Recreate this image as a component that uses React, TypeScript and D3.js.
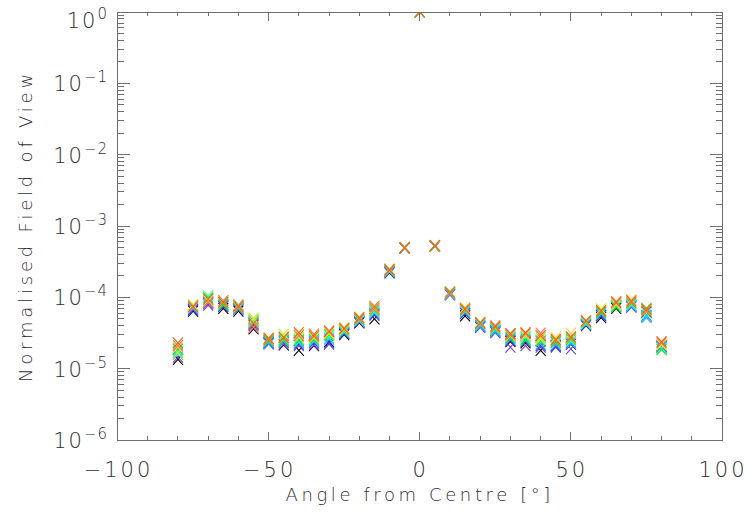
import React from "react";
import * as d3 from "d3";

// Off-axis angles (degrees) at which the field of view was sampled
const angles = [
  -80, -75, -70, -65, -60, -55, -50, -45, -40, -35, -30, -25, -20, -15, -10, -5, 0,
  5, 10, 15, 20, 25, 30, 35, 40, 45, 50, 55, 60, 65, 70, 75, 80,
];

// Normalised field of view per detector channel (same order as angles)
const chBlack = [1.35e-5, 6.4e-5, 8.6e-5, 7.0e-5, 6.4e-5, 3.6e-5, 2.3e-5, 2.15e-5, 1.8e-5, 2.1e-5, 2.4e-5, 3.0e-5, 4.4e-5, 5.0e-5, 2.2e-4, 4.9e-4, 1, 5.2e-4, 1.1e-4, 5.5e-5, 3.9e-5, 3.4e-5, 2.4e-5, 2.3e-5, 1.8e-5, 2.1e-5, 2.2e-5, 4.0e-5, 5.2e-5, 7.0e-5, 7.6e-5, 6.2e-5, 2.0e-5];
const chPurple = [1.45e-5, 6.8e-5, 7.8e-5, 7.4e-5, 6.7e-5, 4.0e-5, 2.35e-5, 2.2e-5, 2.1e-5, 2.15e-5, 2.2e-5, 3.1e-5, 4.5e-5, 5.6e-5, 2.25e-4, 4.92e-4, 1, 5.21e-4, 1.08e-4, 5.9e-5, 4.0e-5, 3.3e-5, 2.0e-5, 2.1e-5, 2.0e-5, 2.05e-5, 1.9e-5, 4.1e-5, 5.5e-5, 8.0e-5, 7.8e-5, 5.6e-5, 2.05e-5];
const chBlue = [1.7e-5, 6.6e-5, 8.2e-5, 7.6e-5, 7.0e-5, 4.2e-5, 2.25e-5, 2.35e-5, 2.2e-5, 2.3e-5, 2.3e-5, 3.15e-5, 4.55e-5, 5.8e-5, 2.3e-4, 4.94e-4, 1, 5.22e-4, 1.12e-4, 6.0e-5, 3.8e-5, 3.2e-5, 2.5e-5, 2.4e-5, 2.1e-5, 2.0e-5, 2.3e-5, 4.2e-5, 5.6e-5, 7.5e-5, 7.3e-5, 5.4e-5, 2.1e-5];
const chSky = [1.6e-5, 7.0e-5, 8.8e-5, 7.8e-5, 6.9e-5, 4.4e-5, 2.2e-5, 2.4e-5, 2.3e-5, 2.4e-5, 2.6e-5, 3.2e-5, 4.6e-5, 6.0e-5, 2.25e-4, 4.95e-4, 1, 5.23e-4, 1.1e-4, 6.2e-5, 3.9e-5, 3.3e-5, 2.6e-5, 2.6e-5, 2.2e-5, 2.15e-5, 2.25e-5, 4.15e-5, 5.8e-5, 7.8e-5, 7.5e-5, 5.2e-5, 2.0e-5];
const chCyan = [1.85e-5, 7.2e-5, 9.5e-5, 8.0e-5, 7.6e-5, 4.6e-5, 2.4e-5, 2.55e-5, 2.4e-5, 2.5e-5, 2.7e-5, 3.3e-5, 4.7e-5, 6.2e-5, 2.35e-4, 4.96e-4, 1, 5.25e-4, 1.14e-4, 6.3e-5, 4.1e-5, 3.5e-5, 3.1e-5, 2.8e-5, 2.5e-5, 2.3e-5, 2.4e-5, 4.3e-5, 6.0e-5, 7.6e-5, 7.7e-5, 5.5e-5, 1.95e-5];
const chAqua = [1.75e-5, 7.4e-5, 1.05e-4, 8.3e-5, 7.9e-5, 4.5e-5, 2.5e-5, 2.6e-5, 2.6e-5, 2.8e-5, 2.9e-5, 3.4e-5, 4.8e-5, 6.4e-5, 2.4e-4, 4.97e-4, 1, 5.26e-4, 1.16e-4, 6.5e-5, 4.2e-5, 3.6e-5, 2.8e-5, 2.7e-5, 2.7e-5, 2.4e-5, 2.5e-5, 4.4e-5, 6.2e-5, 7.4e-5, 8.0e-5, 6.0e-5, 1.9e-5];
const chGreen = [1.9e-5, 7.6e-5, 9.8e-5, 7.9e-5, 7.2e-5, 4.8e-5, 2.45e-5, 2.5e-5, 2.5e-5, 2.6e-5, 3.0e-5, 3.45e-5, 4.9e-5, 6.6e-5, 2.45e-4, 4.98e-4, 1, 5.27e-4, 1.2e-4, 6.6e-5, 4.3e-5, 3.7e-5, 2.7e-5, 2.5e-5, 2.4e-5, 2.35e-5, 2.6e-5, 4.5e-5, 6.1e-5, 7.3e-5, 8.3e-5, 7.0e-5, 1.85e-5];
const chLime = [1.65e-5, 7.9e-5, 9.2e-5, 8.6e-5, 7.5e-5, 5.1e-5, 2.6e-5, 3.05e-5, 2.75e-5, 2.7e-5, 3.1e-5, 3.5e-5, 5.3e-5, 7.2e-5, 2.4e-4, 4.99e-4, 1, 5.28e-4, 1.18e-4, 6.8e-5, 4.4e-5, 3.8e-5, 2.9e-5, 2.9e-5, 2.6e-5, 2.6e-5, 2.7e-5, 4.55e-5, 6.9e-5, 7.9e-5, 8.8e-5, 6.6e-5, 2.15e-5];
const chYellow = [2.0e-5, 7.7e-5, 9.0e-5, 8.8e-5, 7.3e-5, 4.9e-5, 2.7e-5, 2.8e-5, 3.0e-5, 2.9e-5, 3.2e-5, 3.8e-5, 5.1e-5, 6.9e-5, 2.5e-4, 5.0e-4, 1, 5.29e-4, 1.15e-4, 7.2e-5, 4.5e-5, 3.9e-5, 3.0e-5, 3.0e-5, 2.8e-5, 2.75e-5, 3.15e-5, 4.6e-5, 6.6e-5, 8.2e-5, 9.3e-5, 6.7e-5, 2.2e-5];
const chSalmon = [2.1e-5, 7.3e-5, 8.4e-5, 9.0e-5, 7.7e-5, 3.8e-5, 2.55e-5, 2.7e-5, 2.9e-5, 3.05e-5, 3.4e-5, 3.6e-5, 5.0e-5, 7.0e-5, 2.45e-4, 4.97e-4, 1, 5.3e-4, 1.17e-4, 6.7e-5, 4.35e-5, 4.0e-5, 2.95e-5, 3.1e-5, 3.15e-5, 2.5e-5, 2.8e-5, 4.7e-5, 6.4e-5, 8.7e-5, 8.6e-5, 6.4e-5, 2.3e-5];
const chOrange = [2.3e-5, 7.5e-5, 9.4e-5, 8.5e-5, 7.4e-5, 4.3e-5, 2.65e-5, 2.75e-5, 3.2e-5, 2.85e-5, 3.3e-5, 3.65e-5, 5.2e-5, 7.5e-5, 2.4e-4, 4.98e-4, 1, 5.3e-4, 1.15e-4, 6.9e-5, 4.4e-5, 3.85e-5, 3.1e-5, 3.2e-5, 2.9e-5, 2.55e-5, 2.75e-5, 4.65e-5, 6.5e-5, 8.4e-5, 8.9e-5, 6.8e-5, 2.4e-5];

const channels = [chBlack, chPurple, chBlue, chSky, chCyan, chAqua, chGreen, chLime, chYellow, chSalmon, chOrange];
const channelColors = ["#000000", "#7b3fbf", "#2f3fff", "#3fa0ff", "#20e0e8", "#40ffb0", "#20e020", "#b0ff30", "#ffd040", "#ff7060", "#e86a10"];

const xMajor = [-100, -50, 0, 50, 100];
const xMinor = [-90, -80, -70, -60, -40, -30, -20, -10, 10, 20, 30, 40, 60, 70, 80, 90];
const yExponents = [0, -1, -2, -3, -4, -5, -6];

const W = 747;
const H = 518;
const L = 117.5;
const R = 722;
const T = 12;
const B = 440;

const AXIS = "#6e6e6e";
const TEXT = "#2e2e2e";
const FONT = "'DejaVu Sans', sans-serif";

export default function App() {
  const x = d3.scaleLinear().domain([-100, 100]).range([L, R]);
  const y = d3.scaleLog().domain([1e-6, 1]).range([B, T]);

  const yMinor: number[] = [];
  for (let e = -6; e < 0; e++) {
    for (let m = 2; m <= 9; m++) yMinor.push(m * Math.pow(10, e));
  }

  const xMajLen = 8.5;
  const xMinLen = 4.3;
  const yMajLen = 12;
  const yMinLen = 6;
  const hx = 5;
  const hy = 5.5;

  return (
    <svg width={W} height={H} style={{ position: "absolute", left: 0, top: 0, background: "#fff" }}>
      <defs>
        <clipPath id="plotArea">
          <rect x={L} y={T} width={R - L} height={B - T} />
        </clipPath>
      </defs>

      {/* markers, one channel after another */}
      <g clipPath="url(#plotArea)">
        {channels.map((vals, ci) => (
          <g key={ci} stroke={channelColors[ci]} strokeWidth={1.1} fill="none">
            {vals.map((v, i) => {
              const cx = x(angles[i]);
              const cy = y(v);
              return (
                <path
                  key={i}
                  d={`M${cx - hx},${cy - hy}L${cx + hx},${cy + hy}M${cx - hx},${cy + hy}L${cx + hx},${cy - hy}`}
                />
              );
            })}
          </g>
        ))}
      </g>

      {/* frame and ticks */}
      <g stroke={AXIS} strokeWidth={1} fill="none" shapeRendering="crispEdges">
        <rect x={L} y={T} width={R - L} height={B - T} />
        {xMajor.map((t) => (
          <g key={"xM" + t}>
            <line x1={x(t)} x2={x(t)} y1={B} y2={B - xMajLen} />
            <line x1={x(t)} x2={x(t)} y1={T} y2={T + xMajLen} />
          </g>
        ))}
        {xMinor.map((t) => (
          <g key={"xm" + t}>
            <line x1={x(t)} x2={x(t)} y1={B} y2={B - xMinLen} />
            <line x1={x(t)} x2={x(t)} y1={T} y2={T + xMinLen} />
          </g>
        ))}
        {yExponents.map((e) => {
          const yy = y(Math.pow(10, e));
          return (
            <g key={"yM" + e}>
              <line x1={L} x2={L + yMajLen} y1={yy} y2={yy} />
              <line x1={R} x2={R - yMajLen} y1={yy} y2={yy} />
            </g>
          );
        })}
        {yMinor.map((v, i) => (
          <g key={"ym" + i}>
            <line x1={L} x2={L + yMinLen} y1={y(v)} y2={y(v)} />
            <line x1={R} x2={R - yMinLen} y1={y(v)} y2={y(v)} />
          </g>
        ))}
      </g>

      {/* x tick labels */}
      <g fill={TEXT} fontFamily={FONT} fontWeight={200} fontSize={21} textAnchor="middle">
        {xMajor.map((t) => (
          <text key={"xl" + t} x={x(t) + 1} y={476.5} letterSpacing={3}>
            {t < 0 ? "\u2212" + Math.abs(t) : String(t)}
          </text>
        ))}
      </g>

      {/* y tick labels: 10 with exponent */}
      <g fill={TEXT} fontFamily={FONT} fontWeight={200} textAnchor="end">
        {yExponents.map((e) => {
          const yy = Math.max(y(Math.pow(10, e)), 20);
          return (
            <text key={"yl" + e} x={108} y={yy + 8} fontSize={21} letterSpacing={2}>
              10
              <tspan fontSize={15} dy={-9} letterSpacing={1}>
                {e === 0 ? "0" : "\u2212" + Math.abs(e)}
              </tspan>
            </text>
          );
        })}
      </g>

      {/* axis titles */}
      <text
        x={(L + R) / 2}
        y={501}
        textAnchor="middle"
        fontFamily={FONT}
        fontWeight={200}
        fontSize={18}
        letterSpacing={3.6}
        fill={TEXT}
      >
        Angle from Centre [°]
      </text>
      <text
        transform={`translate(32,${(T + B) / 2}) rotate(-90)`}
        textAnchor="middle"
        fontFamily={FONT}
        fontWeight={200}
        fontSize={18}
        letterSpacing={3.8}
        fill={TEXT}
      >
        Normalised Field of View
      </text>
    </svg>
  );
}
